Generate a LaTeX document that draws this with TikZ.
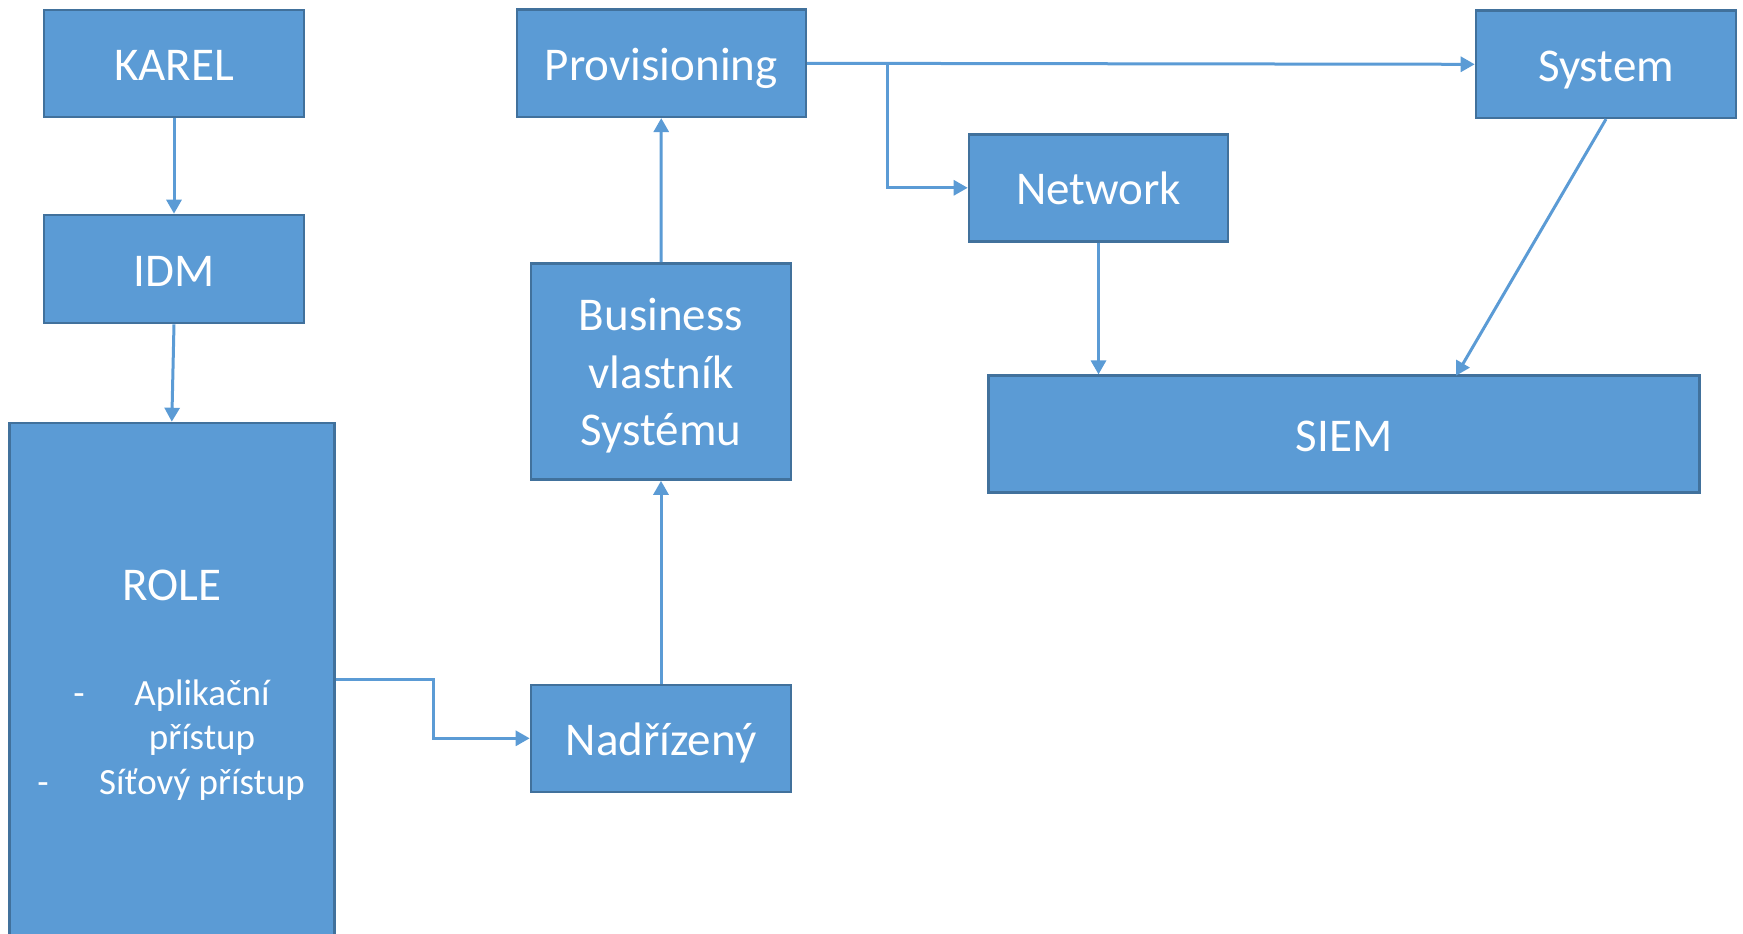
\documentclass[tikz,border=0pt]{standalone}
\usepackage{fontspec}
\setmainfont{Carlito}
\usetikzlibrary{arrows.meta}
\definecolor{boxfill}{HTML}{5B9BD5}
\definecolor{boxline}{HTML}{41719C}
\definecolor{connline}{HTML}{5B9BD5}
\tikzset{
  box/.style={draw=boxline, fill=boxfill, line width=2.6pt, text=white, inner sep=0pt,
    font=\fontsize{47}{57.5}\selectfont},
  onebox/.style={box, text height=44pt, text depth=10pt},
  conn/.style={draw=connline, line width=3pt, -{Triangle[length=14pt,width=15pt]}},
  boxtext/.style={text=white, inner sep=0pt, align=center, font=\fontsize{47}{57.5}\selectfont},
  roletext/.style={text=white, inner sep=0pt, anchor=base, font=\fontsize{37}{44.5}\selectfont}
}
\begin{document}
\begin{tikzpicture}[x=1pt,y=-1pt]
\useasboundingbox (0,0) rectangle (1743,934);
\clip (0,0) rectangle (1743,934);
% boxes
\node[onebox, minimum width=260pt, minimum height=107pt] (karel) at (174,63.5) {KAREL};
\node[onebox, minimum width=260pt, minimum height=108pt] (idm) at (174,269) {IDM};
\node[box, minimum width=325pt, minimum height=513pt] (role) at (171.8,679.5) {};
\node[onebox, minimum width=289pt, minimum height=107pt] (prov) at (661.3,63.3) {Provisioning};
\node[box, minimum width=260pt, minimum height=216pt] (bus) at (661,371.5) {};
\node[boxtext] (bustext) at (661,376) {Business\\vlastník\\Systému};
\node[onebox, minimum width=260pt, minimum height=107pt] (nad) at (661,738.3) {Nadřízený};
\node[onebox, minimum width=260pt, minimum height=107pt] (sys) at (1606,64.3) {System};
\node[onebox, minimum width=259pt, minimum height=107pt] (net) at (1098.5,187.8) {Network};
\node[onebox, minimum width=711pt, minimum height=117pt] (siem) at (1344,434.2) {SIEM};
% ROLE contents
\node[roletext] (roletitle) at (171.5,600.3) {\fontsize{47}{57.5}\selectfont ROLE};
\node[roletext] (dash1) at (79,705.5) {-};
\node[roletext] (item1a) at (202,705.5) {Aplikační};
\node[roletext] (item1b) at (202,749.5) {přístup};
\node[roletext] (dash2) at (43,794) {-};
\node[roletext] (item2) at (202,794) {Síťový přístup};
% connectors
\draw[conn] (karel) -- (idm);
\draw[conn] (idm.south) -- (role.north);
\draw[conn] (role.east) -- ++(98,0) |- (nad.west);
\draw[conn] (nad) -- (bus);
\draw[conn] (bus) -- (prov);
\draw[conn] (prov.east) -- (sys.west);
\coordinate (branch) at (887,63.6);
\draw[conn] (branch) |- (net.west);
\draw[conn] (net.south) -- (net.south |- siem.north);
\coordinate (siemin) at (1456,375.7);
\draw[conn] (sys.south) -- (siemin);
\end{tikzpicture}
\end{document}
